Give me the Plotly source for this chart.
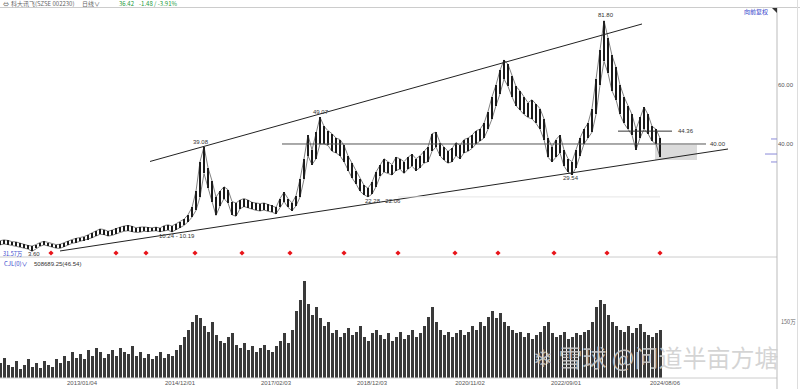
import plotly.graph_objects as go

# ---------------- data (one sample ~ 19 trading days, forward-adjusted prices) ----------------
highs = [
    7.2, 7.5, 7.3, 6.9, 6.8, 6.3, 6.0, 5.6, 5.4, 5.9,
    6.6, 7.0, 6.6, 6.2, 5.9, 6.0, 6.6, 7.0, 7.6, 8.0,
    8.3, 8.6, 9.2, 9.8, 10.5, 11.2, 11.0, 10.4, 10.8, 11.4,
    11.8, 12.2, 12.4, 12.1, 11.6, 11.8, 11.9, 11.7, 11.6, 11.8,
    11.5, 12.3, 12.6, 12.2, 13.0, 13.6, 14.5, 16.0, 18.5, 24.0,
    34.0, 39.08, 32.0, 27.5, 22.0, 24.0, 25.5, 24.5, 20.5, 20.0,
    21.0, 21.5, 21.0, 20.2, 20.0, 19.8, 20.0, 19.5, 19.2, 18.5,
    21.5, 23.6, 21.5, 20.0, 22.5, 28.0, 35.0, 43.0, 38.0, 44.0,
    49.07, 46.0, 44.5, 43.5, 42.0, 41.5, 39.5, 36.0, 33.5, 31.0,
    28.0, 26.0, 25.0, 27.0, 30.5, 33.0, 35.0, 34.0, 33.0, 35.5,
    35.0, 34.0, 35.5, 36.5, 35.0, 36.0, 37.5, 39.0, 43.5, 44.0,
    40.5, 39.0, 37.5, 38.5, 40.5, 39.5, 41.5, 42.0, 43.0, 44.5,
    45.0, 47.0, 51.0, 56.0, 60.0, 65.0, 68.5, 67.0, 63.0, 59.5,
    58.0, 56.0, 54.0, 55.0, 53.5, 52.0, 48.5, 42.0, 39.0, 41.5,
    43.0, 38.0, 35.0, 34.0, 38.0, 42.0, 45.0, 47.0, 52.0, 62.0,
    72.0, 81.8, 76.0, 70.0, 66.0, 60.0, 56.0, 53.0, 50.0, 45.0,
    49.0, 52.5, 50.0, 46.0, 45.0, 42.0,
]
lows = [
    5.8, 6.1, 5.9, 5.6, 5.4, 5.0, 4.8, 4.4, 3.6, 4.6,
    5.3, 5.8, 5.4, 5.0, 4.7, 4.6, 5.2, 5.8, 6.3, 6.6,
    7.0, 7.2, 7.6, 8.2, 8.8, 9.4, 9.3, 8.8, 9.0, 9.6,
    10.0, 10.4, 10.6, 10.3, 10.0, 10.1, 10.4, 10.3, 10.5, 10.6,
    10.24, 10.6, 10.8, 10.19, 11.0, 11.6, 12.4, 13.6, 15.2, 17.5,
    22.0, 30.0, 25.0, 20.5, 15.8, 19.0, 21.5, 20.0, 16.0, 15.5,
    18.0, 18.8, 18.3, 17.8, 17.5, 17.3, 17.6, 17.2, 16.9, 16.3,
    18.5, 20.5, 18.5, 17.4, 19.0, 22.0, 28.0, 36.0, 33.0, 35.0,
    40.0, 40.0, 39.5, 37.5, 37.0, 36.0, 34.0, 31.0, 28.5, 26.5,
    24.0, 22.8, 22.06, 23.0, 25.5, 29.0, 30.5, 30.0, 29.5, 31.0,
    31.5, 30.0, 31.5, 32.5, 31.0, 32.0, 33.5, 34.0, 37.5, 39.0,
    36.0, 34.5, 33.5, 34.0, 36.0, 35.0, 37.0, 37.5, 38.5, 40.0,
    41.0, 42.0, 45.0, 48.5, 53.0, 57.0, 62.0, 59.5, 56.0, 53.0,
    51.5, 50.0, 49.0, 48.5, 47.0, 45.0, 41.5, 35.5, 34.0, 35.5,
    37.0, 32.5, 30.5, 29.54, 32.0, 36.0, 40.0, 42.0, 44.0, 50.0,
    60.0, 68.0, 64.0, 58.0, 55.0, 50.0, 47.0, 45.0, 43.0, 38.0,
    42.0, 45.0, 43.5, 41.0, 40.0, 35.5,
]
volumes = [  # 万手
    40, 55, 35, 30, 45, 25, 35, 50, 30, 40,
    28, 45, 35, 30, 50, 40, 60, 45, 70, 55,
    65, 50, 75, 60, 80, 70, 55, 65, 75, 60,
    80, 70, 65, 85, 60, 70, 55, 65, 50, 60,
    70, 55, 65, 60, 75, 90, 110, 130, 150, 170,
    160, 140, 125, 150, 115, 100, 95, 110, 120, 90,
    80, 95, 75, 85, 70, 80, 90, 75, 70, 85,
    100, 120, 95, 130, 180, 210, 262, 200, 170, 190,
    160, 140, 150, 120, 130, 110, 120, 135, 115, 125,
    140, 110, 100, 120, 130, 115, 105, 120, 100, 110,
    125, 105, 115, 130, 110, 120, 140, 165, 190, 150,
    130, 115, 125, 110, 120, 130, 115, 125, 140, 130,
    150, 140, 165, 180, 160, 175, 150, 140, 130, 120,
    125, 110, 120, 105, 115, 125, 140, 150, 120, 110,
    115, 125, 105, 110, 120, 115, 125, 130, 150, 190,
    210, 200, 170, 150, 140, 130, 125, 140, 120, 135,
    145, 125, 115, 110, 120, 130,
]

tick_index = [20.5, 45, 69, 93, 117.5, 141.5, 166.25]
tick_labels = ["2013/01/04", "2014/12/01", "2017/02/03", "2018/12/03",
               "2020/11/02", "2022/09/01", "2024/08/06"]

signal_index = [12.75, 29, 36.5, 48.75, 60.5, 72.5, 86, 99.5, 113.75, 124.5, 138.5, 151.75, 165]
signal_price = 3.05

upper_trend_x = [37.5, 160.5]
upper_trend_y = [34.07, 80.68]
lower_trend_x = [15, 182]
lower_trend_y = [3.73, 38.3]
level_40_x = [70.5, 176.5]
level_40 = 40.00
level_4436_x = [154.5, 168]
level_4436 = 44.36
level_2206_x = [99.5, 165]
level_2206 = 22.06
box_x = [163.75, 174.25]
box_y = [34.6, 39.7]
axis_marks = [41.7, 36.6, 33.9]   # small blue price markers on the right scale

# label positions (index, price, text)
price_labels = [
    (151.5, 83.6, "81.80"),
    (80.25, 50.9, "49.07"),
    (50.25, 40.6, "39.08"),
    (44.25, 8.8, "10.24 - 10.19"),
    (95.75, 20.6, "22.28 - 22.06"),
    (142.75, 28.4, "29.54"),
    (8.5, 2.7, "3.60"),
]

# ---------------- figure ----------------
idx_p = list(range(len(highs)))
idx_v = list(range(len(volumes)))
ranges = [h - l for h, l in zip(highs, lows)]

W_PLOT = 777.0
def PX(px):
    return px / W_PLOT
def PY(py):
    return (378.0 - py) / 370.0

fig = go.Figure()

# price: thin high-low range bars with thin envelope lines
fig.add_trace(go.Bar(x=idx_p, y=ranges, base=lows, width=0.32,
                     marker=dict(color="#1a1a1a", line=dict(width=0)),
                     xaxis="x", yaxis="y", hoverinfo="skip", showlegend=False))
fig.add_trace(go.Scatter(x=idx_p, y=lows, mode="lines", line=dict(color="#2a2a2a", width=0.6),
                         xaxis="x", yaxis="y", hoverinfo="skip", showlegend=False))
fig.add_trace(go.Scatter(x=idx_p, y=highs, mode="lines", line=dict(color="#2a2a2a", width=0.6),
                         xaxis="x", yaxis="y", hoverinfo="skip", showlegend=False))

for xs, ys in [(upper_trend_x, upper_trend_y), (lower_trend_x, lower_trend_y)]:
    fig.add_trace(go.Scatter(x=xs, y=ys, mode="lines", line=dict(color="#222222", width=1),
                             xaxis="x", yaxis="y", hoverinfo="skip", showlegend=False))

fig.add_trace(go.Scatter(x=level_40_x, y=[level_40, level_40], mode="lines",
                         line=dict(color="#555555", width=1), xaxis="x", yaxis="y",
                         hoverinfo="skip", showlegend=False))
fig.add_trace(go.Scatter(x=level_4436_x, y=[level_4436, level_4436], mode="lines",
                         line=dict(color="#333333", width=1), xaxis="x", yaxis="y",
                         hoverinfo="skip", showlegend=False))
fig.add_trace(go.Scatter(x=level_2206_x, y=[level_2206, level_2206], mode="lines",
                         line=dict(color="#e6e6e6", width=1), xaxis="x", yaxis="y",
                         hoverinfo="skip", showlegend=False))

fig.add_trace(go.Scatter(x=signal_index, y=[signal_price] * len(signal_index), mode="markers",
                         marker=dict(symbol="diamond", size=4, color="#e8141a"),
                         xaxis="x", yaxis="y", hoverinfo="skip", showlegend=False))

fig.add_trace(go.Bar(x=idx_v, y=volumes, width=0.75,
                     marker=dict(color="#3a3a3a", line=dict(width=0)),
                     xaxis="x2", yaxis="y2", hoverinfo="skip", showlegend=False))

shapes = [
    dict(type="rect", xref="x", yref="y", x0=box_x[0], x1=box_x[1], y0=box_y[0], y1=box_y[1],
         fillcolor="rgba(190,190,190,0.55)", line=dict(width=0), layer="below"),
    # frame lines
    dict(type="line", xref="paper", yref="paper", x0=0, x1=1.03, y0=PY(7.5), y1=PY(7.5),
         line=dict(color="#cccccc", width=1)),
    dict(type="line", xref="paper", yref="paper", x0=0, x1=1, y0=PY(257), y1=PY(257),
         line=dict(color="#cccccc", width=1)),
    dict(type="line", xref="paper", yref="paper", x0=0, x1=1, y0=PY(378), y1=PY(378),
         line=dict(color="#cccccc", width=1)),
    dict(type="line", xref="paper", yref="paper", x0=1, x1=1, y0=PY(7.5), y1=PY(389),
         line=dict(color="#bbbbbb", width=1)),
    dict(type="line", xref="paper", yref="paper", x0=PX(797.5), x1=PX(797.5), y0=PY(0), y1=PY(389),
         line=dict(color="#dddddd", width=1)),
    # corner triangle
    dict(type="path", xref="paper", yref="paper",
         path=f"M {PX(772)} {PY(8)} L {PX(777)} {PY(8)} L {PX(777)} {PY(13)} Z",
         fillcolor="#333333", line=dict(width=0)),
]
for k, m in enumerate(axis_marks):
    shapes.append(dict(type="line", xref="paper", yref="y", x0=PX(765 if k == 1 else 771), x1=1,
                       y0=m, y1=m, line=dict(color="#8a8ad8", width=1)))

annotations = []
for xi, yp, t in price_labels:
    annotations.append(dict(x=xi, y=yp, xref="x", yref="y", text=t, showarrow=False,
                            font=dict(size=6, color="#333333", family="Liberation Sans"),
                            xanchor="center", yanchor="middle"))
annotations.append(dict(x=169, y=level_4436, xref="x", yref="y", text="44.36", showarrow=False,
                        font=dict(size=6, color="#333333", family="Liberation Sans"),
                        xanchor="left", yanchor="middle"))
annotations.append(dict(x=177, y=level_40, xref="x", yref="y", text="40.00", showarrow=False,
                        font=dict(size=6, color="#333333", family="Liberation Sans"),
                        xanchor="left", yanchor="middle"))

CJK = "Noto Sans CJK SC"
header = [
    (1, "⇔", "#666666"),
    (9, "科大讯飞(SZSE 002230)", "#666666"),
    (80, "日线∨", "#666666"),
    (117, "36.42", "#1a9a3a"),
    (137, "-1.48 / -3.91%", "#1a9a3a"),
]
for px, t, c in header:
    annotations.append(dict(x=PX(px), y=PY(3.5), xref="paper", yref="paper", text=t, showarrow=False,
                            font=dict(size=6, color=c, family=CJK), xanchor="left", yanchor="middle"))
annotations.append(dict(x=PX(770), y=PY(11), xref="paper", yref="paper", text="向前复权", showarrow=False,
                        font=dict(size=6, color="#3344cc", family=CJK), xanchor="right", yanchor="middle"))
annotations.append(dict(x=PX(0.5), y=PY(254), xref="paper", yref="paper", text="31.57万", showarrow=False,
                        font=dict(size=5.5, color="#3344cc", family=CJK), xanchor="left", yanchor="middle"))
annotations.append(dict(x=PX(2), y=PY(263.5), xref="paper", yref="paper", text="CJL(0)∨", showarrow=False,
                        font=dict(size=6, color="#3344cc", family=CJK), xanchor="left", yanchor="middle"))
annotations.append(dict(x=PX(32), y=PY(263.5), xref="paper", yref="paper", text="508689.25(46.54)",
                        showarrow=False, font=dict(size=6, color="#333333", family="Liberation Sans"),
                        xanchor="left", yanchor="middle"))
annotations.append(dict(x=PX(779), y=PY(322), xref="paper", yref="paper", text="150万", showarrow=False,
                        font=dict(size=5.5, color="#666666", family=CJK), xanchor="left", yanchor="middle"))
annotations.append(dict(x=PX(655), y=PY(356), xref="paper", yref="paper", text="❄ 雪球 @问道半亩方塘",
                        showarrow=False, font=dict(size=24, color="rgba(205,205,205,0.85)", family=CJK),
                        xanchor="center", yanchor="middle"))

fig.update_layout(
    width=800, height=389,
    margin=dict(l=0, r=23, t=8, b=11, autoexpand=False),
    paper_bgcolor="white", plot_bgcolor="white",
    bargap=0,
    xaxis=dict(domain=[0, 1], range=[0, 194.25], anchor="y", showticklabels=False,
               showgrid=False, zeroline=False, ticks="", automargin=False),
    yaxis=dict(domain=[PY(257), 1], range=[1.69, 86.1], side="right", anchor="x",
               tickvals=[40, 60], ticktext=["40.00", "60.00"], showgrid=False, zeroline=False,
               ticks="", automargin=False,
               tickfont=dict(size=6, color="#555555", family="Liberation Sans")),
    xaxis2=dict(domain=[0, 1], range=[0, 194.25], anchor="y2", matches="x",
                tickvals=tick_index, ticktext=tick_labels, showgrid=False, zeroline=False,
                ticks="", automargin=False,
                tickfont=dict(size=6, color="#555555", family="Liberation Sans")),
    yaxis2=dict(domain=[0, PY(268)], range=[0, 295.7], side="right", anchor="x2",
                showticklabels=False, showgrid=False, zeroline=False, ticks="", automargin=False),
    shapes=shapes,
    annotations=annotations,
)

fig.write_html("out.html", config={"displayModeBar": False},
               post_script="document.body.style.margin='0px';")
